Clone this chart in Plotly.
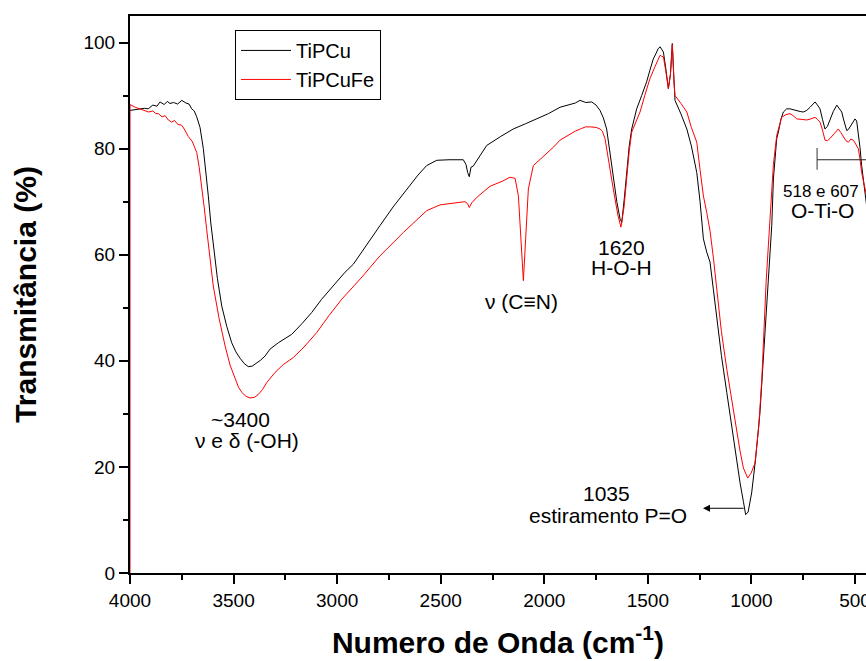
import plotly.graph_objects as go

# ---------------- data ----------------
wn_cu = [4000, 3975, 3950, 3930, 3912, 3890, 3870, 3855, 3835, 3820, 3807, 3790, 3770, 3750,
         3730, 3715, 3702, 3690, 3678, 3662, 3646, 3634, 3622, 3610, 3598, 3578, 3557, 3533,
         3509, 3489, 3469, 3449, 3429, 3410, 3392, 3370, 3348, 3324, 3284, 3250, 3219, 3170,
         3123, 3075, 3034, 2962, 2922, 2860, 2793, 2730, 2664, 2610, 2568, 2519, 2460, 2391,
         2378, 2370, 2362, 2354, 2343, 2310, 2278, 2210, 2150, 2090, 2037, 1980, 1924, 1880,
         1850, 1828, 1800, 1771, 1750, 1731, 1715, 1699, 1683, 1667, 1650, 1634, 1626, 1614,
         1602, 1590, 1578, 1554, 1530, 1506, 1490, 1474, 1460, 1451, 1441, 1433, 1425, 1413,
         1401, 1391, 1382, 1374, 1369, 1340, 1312, 1290, 1264, 1248, 1232, 1216, 1200, 1184,
         1168, 1145, 1119, 1095, 1071, 1055, 1039, 1028, 1016, 999, 980, 959, 940, 919, 902,
         894, 878, 870, 858, 846, 830, 814, 798, 781, 765, 750, 733, 717, 705, 693, 681, 669,
         657, 645, 633, 621, 605, 588, 576, 564, 556, 548, 540, 532, 516, 500, 492, 484, 476,
         468, 460, 452, 440]
t_cu = [87.2, 87.3, 87.5, 87.6, 87.5, 88.2, 88.0, 88.8, 88.3, 88.9, 88.5, 88.7, 88.4, 89.1,
        88.6, 88.4, 87.5, 87.1, 86.0, 84.0, 80.0, 76.0, 71.1, 66.0, 61.7, 55.5, 50.3, 46.5,
        43.4, 41.7, 40.5, 39.5, 38.9, 39.0, 39.5, 40.1, 40.9, 42.2, 43.4, 44.2, 45.0, 47.0,
        49.1, 51.6, 53.5, 56.7, 58.2, 61.8, 65.5, 69.0, 72.4, 75.0, 76.8, 77.8, 77.9, 77.9,
        77.0, 75.5, 74.7, 76.5, 76.7, 78.7, 80.6, 82.3, 83.7, 84.7, 85.6, 86.6, 87.8, 88.2,
        88.6, 89.1, 88.7, 88.8, 88.2, 87.2, 85.8, 83.7, 79.0, 74.3, 70.0, 66.7, 66.1, 70.5,
        76.2, 80.5, 83.7, 87.5, 90.0, 92.6, 94.8, 96.9, 98.0, 98.8, 99.2, 98.6, 98.2, 95.0,
        91.3, 94.0, 99.8, 93.0, 89.1, 86.5, 83.7, 80.5, 75.5, 70.0, 63.0, 60.5, 58.6, 53.5,
        48.0, 41.0, 34.0, 27.5, 21.4, 17.0, 13.5, 11.0, 11.5, 15.1, 21.5, 30.2, 42.0, 55.4,
        65.5, 74.3, 81.9, 83.1, 85.5, 86.9, 87.5, 87.5, 87.3, 87.2, 87.0, 86.9, 87.2, 87.8,
        88.3, 88.8, 88.2, 87.5, 85.5, 83.7, 84.2, 85.4, 87.0, 88.2, 87.6, 86.9, 85.6, 84.3,
        83.4, 83.6, 84.5, 85.6, 85.2, 83.1, 80.2, 76.8, 74.5, 72.4, 68.0]

wn_cufe = [4000, 4000, 3975, 3950, 3928, 3910, 3890, 3875, 3863, 3845, 3830, 3815, 3799,
           3785, 3770, 3750, 3735, 3719, 3700, 3690, 3678, 3666, 3654, 3642, 3630, 3614,
           3598, 3570, 3541, 3517, 3493, 3476, 3459, 3440, 3421, 3400, 3382, 3360, 3340,
           3300, 3260, 3212, 3160, 3099, 3040, 2978, 2880, 2793, 2680, 2568, 2503, 2440,
           2383, 2370, 2362, 2350, 2326, 2262, 2200, 2166, 2141, 2125, 2114, 2101, 2090,
           2077, 2053, 2020, 1988, 1955, 1924, 1880, 1850, 1820, 1800, 1779, 1750, 1731,
           1720, 1707, 1690, 1667, 1645, 1630, 1615, 1602, 1590, 1578, 1538, 1515, 1490,
           1465, 1450, 1441, 1433, 1425, 1413, 1401, 1391, 1382, 1374, 1369, 1340, 1312,
           1290, 1264, 1248, 1232, 1216, 1200, 1184, 1168, 1145, 1119, 1095, 1071, 1055,
           1039, 1018, 1002, 983, 965, 950, 929, 910, 894, 878, 866, 854, 834, 814, 798,
           781, 757, 733, 713, 693, 681, 669, 657, 645, 633, 621, 601, 581, 568, 556, 544,
           532, 520, 508, 496, 484, 476, 468, 456, 444, 430]
t_cufe = [0.0, 88.3, 87.8, 87.4, 87.2, 86.9, 87.1, 86.6, 86.6, 86.0, 86.2, 85.4, 85.0,
          85.3, 84.6, 84.4, 83.5, 82.3, 81.4, 80.5, 79.3, 76.5, 73.0, 69.0, 64.8, 59.5,
          54.1, 48.0, 42.8, 39.2, 36.5, 35.0, 34.0, 33.3, 33.0, 33.1, 33.6, 34.6, 35.9,
          37.8, 39.3, 40.6, 42.6, 45.3, 48.5, 51.6, 55.8, 59.8, 64.2, 68.3, 69.4, 69.7,
          70.0, 69.6, 68.9, 69.8, 70.8, 72.9, 73.9, 74.6, 74.4, 71.1, 63.0, 55.1, 63.0,
          72.4, 76.8, 78.0, 79.0, 80.3, 81.6, 82.6, 83.3, 83.8, 84.1, 84.1, 84.0, 83.7,
          83.3, 81.9, 77.5, 72.4, 67.5, 65.2, 69.0, 74.9, 79.5, 83.1, 86.9, 90.0, 93.2,
          95.5, 97.0, 97.6, 97.4, 97.3, 94.5, 91.3, 94.0, 99.6, 92.5, 90.0, 88.5, 86.9,
          84.0, 81.2, 76.0, 71.1, 68.0, 64.5, 59.5, 53.2, 45.5, 38.4, 32.5, 26.7, 23.0,
          19.8, 17.9, 18.8, 20.7, 27.5, 36.5, 55.0, 68.0, 77.0, 82.5, 84.5, 85.9, 86.4,
          86.6, 86.2, 85.6, 85.5, 85.4, 85.6, 85.9, 85.5, 85.0, 83.5, 81.6, 81.5, 81.9,
          82.8, 83.7, 83.0, 82.1, 81.5, 81.2, 81.8, 81.6, 80.8, 80.0, 78.0, 75.5, 73.2,
          71.1, 67.0]

series_names = ["TiPCu", "TiPCuFe"]

x_ticks = [4000, 3500, 3000, 2500, 2000, 1500, 1000, 500]
y_ticks = [0, 20, 40, 60, 80, 100]

# annotation label texts and anchor positions (data units)
labels = [
    ("~3400", 3469, 28.9, 21),
    ("\u03bd e \u03b4 (-OH)", 3435, 25.0, 21),
    ("\u03bd (C\u2261N)", 2109, 51.2, 21),
    ("1620", 1626, 61.3, 21),
    ("H-O-H", 1626, 57.5, 21),
    ("1035", 1699, 14.9, 21),
    ("estiramento P=O", 1694, 10.9, 21),
    ("518 e 607", 664, 72.0, 17),
    ("O-Ti-O", 656, 68.4, 21),
]

FONT = "Liberation Sans, Arial, Helvetica, sans-serif"

fig = go.Figure()
fig.add_trace(go.Scatter(x=wn_cu, y=t_cu, mode="lines", name=series_names[0],
                         line=dict(color="#000000", width=1)))
fig.add_trace(go.Scatter(x=wn_cufe, y=t_cufe, mode="lines", name=series_names[1],
                         line=dict(color="#ff0000", width=1)))

for txt, xv, yv, fs in labels:
    fig.add_annotation(x=xv, y=yv, text=txt, showarrow=False,
                       font=dict(family=FONT, size=fs, color="#000"),
                       xanchor="center", yanchor="middle")

# arrow for 1035 band
fig.add_annotation(x=1234, y=12.2, ax=1031, ay=12.2, axref="x", ayref="y",
                   xref="x", yref="y", text="", showarrow=True,
                   arrowhead=2, arrowsize=1.4, arrowwidth=1, arrowcolor="#000")

# bracket for O-Ti-O region
fig.add_shape(type="line", x0=683, x1=683, y0=76.0, y1=80.1, xref="x", yref="y",
              line=dict(color="#777777", width=1.5))
fig.add_shape(type="line", x0=683, x1=400, y0=77.9, y1=77.9, xref="x", yref="y",
              line=dict(color="#222222", width=1))

fig.update_layout(
    width=866, height=661,
    margin=dict(l=130, r=0, t=16, b=88),
    paper_bgcolor="white", plot_bgcolor="white",
    font=dict(family=FONT, size=19, color="#000"),
    showlegend=True,
    legend=dict(x=0.1427, y=0.975, xanchor="left", yanchor="top",
                bordercolor="#000", borderwidth=1, bgcolor="rgba(255,255,255,0)",
                font=dict(family=FONT, size=20), itemwidth=50,
                tracegroupgap=0),
    xaxis=dict(
        range=[4000, 447], tickvals=x_ticks, ticktext=[str(v) for v in x_ticks],
        ticks="outside", ticklen=9, tickwidth=1.5, tickcolor="#000",
        minor=dict(ticks="outside", ticklen=5, dtick=250, tickwidth=1.5, tickcolor="#000"),
        showline=True, linecolor="#000", linewidth=2, mirror=True,
        showgrid=False, zeroline=False, ticklabeloverflow="allow",
        tickfont=dict(family=FONT, size=19),
        title=dict(text="<b>Numero de Onda (cm<sup>-1</sup>)</b>",
                   font=dict(family=FONT, size=30), standoff=22),
        automargin=False,
    ),
    yaxis=dict(
        range=[0, 105], tickvals=y_ticks, ticktext=[str(v) for v in y_ticks],
        ticks="outside", ticklen=9, tickwidth=1.5, tickcolor="#000",
        minor=dict(ticks="outside", ticklen=5, dtick=10, tickwidth=1.5, tickcolor="#000"),
        showline=True, linecolor="#000", linewidth=2, mirror=False,
        showgrid=False, zeroline=False,
        tickfont=dict(family=FONT, size=19),
        title=dict(text="<b>Transmit\u00e2ncia (%)</b>",
                   font=dict(family=FONT, size=30), standoff=38),
        automargin=False,
    ),
)

fig.write_html("out.html")
